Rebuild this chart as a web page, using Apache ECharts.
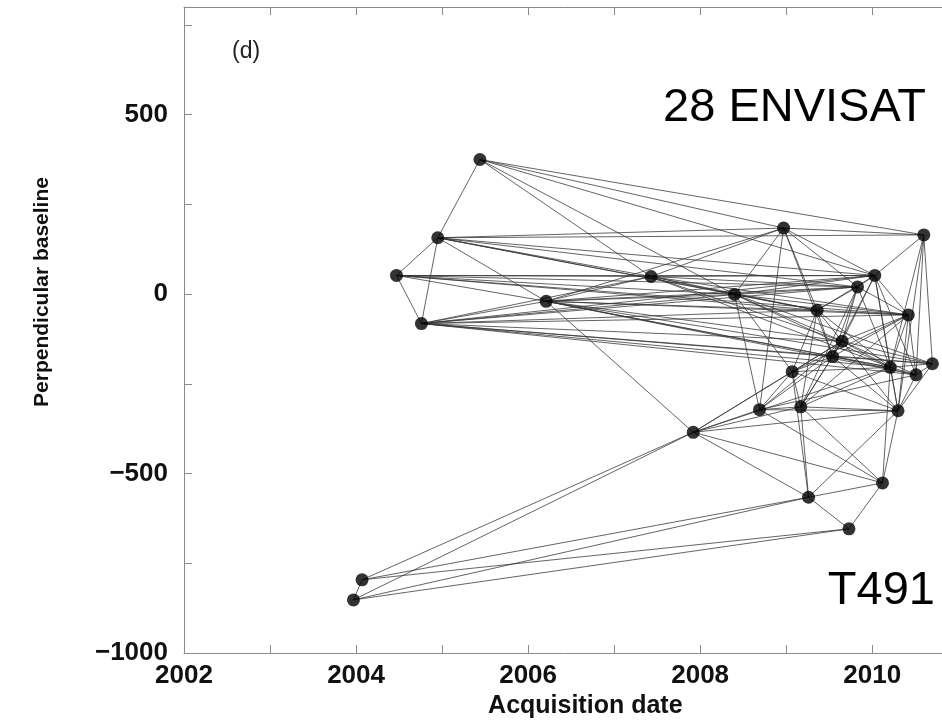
<!DOCTYPE html>
<html>
<head>
<meta charset="utf-8">
<title>Baseline network</title>
<script src="https://cdn.jsdelivr.net/npm/echarts@6/dist/echarts.min.js"></script>
<style>
    html, body { margin: 0; padding: 0; background: #fff; }
    #chart { width: 942px; height: 726px; }
</style>
</head>
<body>
<div id="chart"></div>
<script>
// 28 acquisitions: date (decimal year) and perpendicular baseline
const dates = [
    2005.44, 2004.95, 2004.47, 2004.76, 2006.21, 2007.43, 2008.40,
    2008.97, 2010.03, 2009.83, 2009.36, 2010.60, 2010.42, 2009.65,
    2009.54, 2009.07, 2010.21, 2010.51, 2010.70, 2009.17, 2008.69,
    2010.30, 2007.92, 2010.12, 2009.26, 2009.73, 2004.07, 2003.97
];
const baselines = [
    375, 157, 52, -82, -20, 49, -1,
    184, 52, 20, -45, 165, -58, -131,
    -174, -216, -204, -225, -194, -314, -322,
    -325, -385, -526, -566, -654, -796, -852
];
// interferometric pairs (acquisition numbers, 1-based)
const pairs = [
    [1, 2], [2, 3], [2, 4], [3, 4], [2, 5], [3, 5], [4, 5],
    [1, 6], [1, 7], [1, 8], [1, 9], [1, 12],
    [2, 6], [2, 7], [2, 8], [2, 9], [2, 10], [2, 11], [2, 12],
    [3, 6], [3, 7], [3, 9], [3, 10], [3, 11], [3, 13],
    [4, 6], [4, 7], [4, 9], [4, 10], [4, 11], [4, 13], [4, 14], [4, 15], [4, 17], [4, 18], [4, 19],
    [5, 6], [5, 7], [5, 8], [5, 9], [5, 10], [5, 11], [5, 13], [5, 14], [5, 15], [5, 17], [5, 18], [5, 19], [5, 23],
    [6, 7], [6, 8], [6, 9], [6, 10], [6, 11], [6, 13], [6, 14], [6, 17],
    [7, 8], [7, 9], [7, 10], [7, 11], [7, 13], [7, 14], [7, 16], [7, 17], [7, 19], [7, 21],
    [8, 9], [8, 10], [8, 11], [8, 12], [8, 15], [8, 21],
    [12, 9], [12, 17], [12, 18], [12, 19], [12, 22],
    [9, 10], [9, 11], [9, 13], [9, 14], [9, 15], [9, 17], [9, 18], [9, 22],
    [10, 11], [10, 13], [10, 14], [10, 15], [10, 17], [10, 20],
    [11, 13], [11, 14], [11, 15], [11, 16], [11, 17], [11, 20],
    [13, 14], [13, 15], [13, 16], [13, 17], [13, 18], [13, 20], [13, 22],
    [14, 15], [14, 16], [14, 17], [14, 18], [14, 19], [14, 20], [14, 21], [14, 22],
    [15, 16], [15, 17], [15, 18], [15, 19], [15, 20], [15, 21], [15, 22],
    [16, 17], [16, 20], [16, 21], [16, 22], [16, 25],
    [17, 18], [17, 19], [17, 20], [17, 22], [17, 24],
    [18, 19], [18, 22], [19, 22],
    [20, 21], [20, 22], [20, 23], [20, 24], [20, 25],
    [21, 18], [21, 22], [21, 23], [21, 24],
    [22, 24], [22, 25],
    [23, 14], [23, 16], [23, 17], [23, 22], [23, 24], [23, 25], [23, 27], [23, 28],
    [24, 25], [24, 26], [25, 26], [25, 27], [25, 28],
    [26, 27], [26, 28], [27, 28]
];
const xLabels = [2002, 2004, 2006, 2008, 2010];
const yLabels = [-1000, -500, 0, 500];

const FONT = '"Liberation Sans", Arial, Helvetica, sans-serif';
const AXIS_GREY = '#8a8a8a';

let points = dates.map((d, i) => [d, baselines[i]]);
let links = pairs.map(p => ({ coords: [points[p[0] - 1], points[p[1] - 1]] }));

let myChart = echarts.init(document.getElementById('chart'));

let axisCommon = {
    axisLine: { show: true, onZero: false, lineStyle: { color: AXIS_GREY, width: 1 } },
    axisTick: { show: true, inside: true, length: 8, lineStyle: { color: AXIS_GREY } },
    splitLine: { show: false }
};

let option = {
    animation: false,
    backgroundColor: '#fff',
    grid: {
        left: 184,
        top: 7,
        width: 802.6,
        height: 646,
        containLabel: false,
        outerBoundsMode: 'none'
    },
    xAxis: [
        Object.assign({}, axisCommon, {
            type: 'value',
            min: 2002,
            max: 2011.33,
            interval: 1,
            name: 'Acquisition date',
            nameLocation: 'middle',
            nameGap: 40,
            nameTextStyle: { fontFamily: FONT, fontWeight: 'bold', fontSize: 25, color: '#111' },
            axisLabel: {
                margin: 10,
                fontFamily: FONT,
                fontWeight: 'bold',
                fontSize: 26,
                color: '#111',
                showMaxLabel: false,
                formatter: v => (xLabels.indexOf(v) >= 0 ? String(v) : '')
            }
        }),
        Object.assign({}, axisCommon, {
            type: 'value',
            position: 'top',
            min: 2002,
            max: 2011.33,
            interval: 1,
            axisLabel: { show: false }
        })
    ],
    yAxis: [
        Object.assign({}, axisCommon, {
            type: 'value',
            min: -1000,
            max: 800,
            interval: 250,
            axisLabel: {
                margin: 16,
                fontFamily: FONT,
                fontWeight: 'bold',
                fontSize: 26,
                color: '#111',
                showMaxLabel: false,
                formatter: v => (yLabels.indexOf(v) >= 0 ? (v < 0 ? '\u2212' + Math.abs(v) : String(v)) : '')
            }
        }),
        Object.assign({}, axisCommon, {
            type: 'value',
            position: 'right',
            min: -1000,
            max: 800,
            interval: 250,
            axisLabel: { show: false }
        })
    ],
    graphic: [
        {
            type: 'text',
            x: 42,
            y: 292,
            rotation: Math.PI / 2,
            style: {
                text: 'Perpendicular baseline',
                font: 'bold 21px ' + FONT,
                fill: '#111',
                textAlign: 'center',
                textVerticalAlign: 'middle'
            }
        },
        {
            type: 'text',
            left: 232,
            top: 40,
            style: { text: '(d)', font: '23px ' + FONT, fill: '#222' }
        },
        {
            type: 'text',
            right: 16,
            top: 85,
            style: { text: '28 ENVISAT', font: '47px ' + FONT, fill: '#000' }
        },
        {
            type: 'text',
            right: 7,
            top: 568,
            style: { text: 'T491', font: '47px ' + FONT, fill: '#000' }
        }
    ],
    series: [
        {
            type: 'lines',
            coordinateSystem: 'cartesian2d',
            silent: true,
            lineStyle: { color: '#333', width: 0.9, opacity: 0.85 },
            data: links
        },
        {
            type: 'scatter',
            symbol: 'circle',
            symbolSize: 13,
            itemStyle: { color: '#000' },
            data: points
        }
    ]
};

// 绘制图表
myChart.setOption(option);
</script>
</body>
</html>
